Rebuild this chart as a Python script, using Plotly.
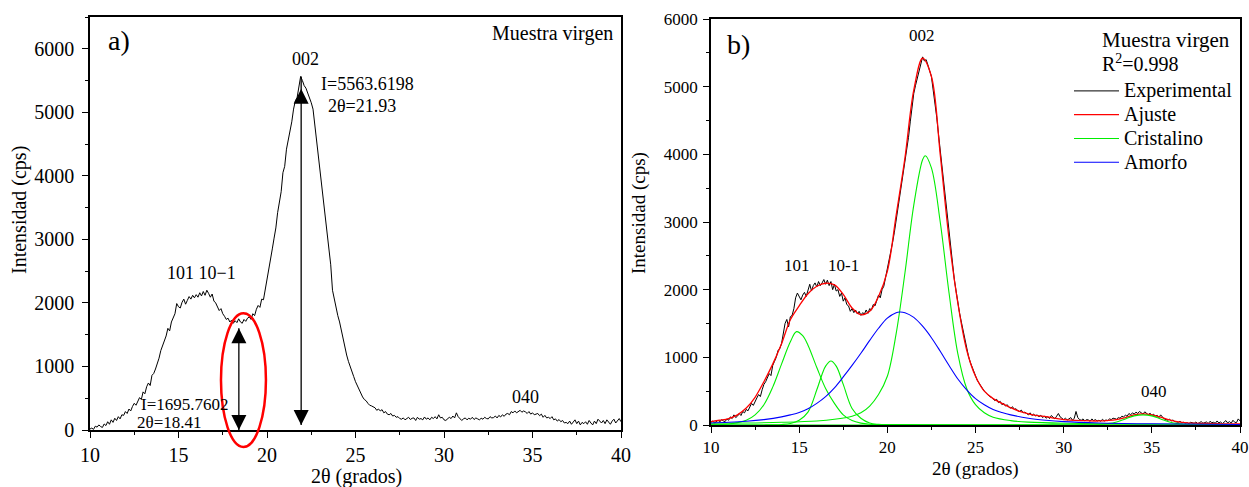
import numpy as np
import plotly.graph_objects as go

FONT = "Liberation Serif"

# ---------------- data ----------------
# scan grid (2theta, degrees)
two_theta = np.round(np.arange(10.0, 40.0001, 0.1), 1)

# panel a) raw diffractogram (cps)
intensity_a = [
    15, 30, 10, 60, 45, 80, 55, 40, 95, 70,
    130, 90, 160, 120, 185, 150, 210, 175, 240, 230,
    290, 260, 330, 300, 370, 420, 390, 460, 510, 480,
    600, 570, 680, 740, 700, 860, 890, 960, 1040, 1130,
    1250, 1320, 1420, 1480, 1600, 1560, 1700, 1760, 1830, 1990,
    1940, 1920, 2010, 2060, 1980, 2040, 2100, 2060, 2120, 2080,
    2130, 2090, 2160, 2110, 2180, 2120, 2200, 2150, 2090, 2140,
    2030, 2000, 1930, 1880, 1910, 1830, 1790, 1740, 1760, 1700,
    1730, 1680, 1720, 1690, 1750, 1700, 1680, 1740, 1710, 1760,
    1780, 1740, 1830, 1800, 1900, 1960, 1930, 2060, 2050, 2200,
    2380, 2520, 2640, 2850, 3020, 3180, 3420, 3600, 3750, 4050,
    4150, 4420, 4550, 4700, 4850, 5050, 5180, 5230, 5400, 5563.6,
    5500, 5420, 5380, 5300, 5250, 5150, 5050, 4800, 4550, 4350,
    4100, 3850, 3600, 3300, 3080, 2850, 2600, 2200, 2050, 1920,
    1800, 1700, 1560, 1420, 1300, 1180, 1080, 990, 900, 840,
    760, 700, 640, 560, 520, 480, 460, 420, 390, 380,
    360, 350, 310, 330, 300, 320, 270, 290, 250, 240,
    260, 220, 230, 200, 210, 180, 170, 190, 160, 175,
    200, 165, 185, 190, 150, 200, 170, 180, 160, 205,
    170, 190, 160, 200, 180, 210, 175, 240, 190, 200,
    160, 150, 175, 200, 180, 220, 190, 270, 210, 180,
    150, 175, 190, 160, 185, 170, 200, 165, 190, 175,
    160, 185, 170, 200, 180, 175, 210, 190, 195, 220,
    190, 230, 205, 240, 215, 250, 260, 240, 290, 270,
    300, 270, 290, 310, 280, 300, 285, 260, 290, 250,
    270, 240, 250, 260, 225, 250, 200, 230, 190, 200,
    180, 210, 160, 175, 140, 165, 130, 150, 110, 120,
    100, 140, 90, 125, 160, 100, 140, 80, 120, 100,
    130, 90, 150, 110, 80, 140, 100, 170, 130, 110,
    150, 100, 160, 120, 90, 140, 170, 110, 140, 180,
    130,
]

# panel b) experimental (cps)
intensity_b = [
    40, 60, 30, 55, 70, 45, 80, 60, 50, 90,
    70, 120, 95, 150, 110, 130, 170, 140, 200, 180,
    230, 210, 270, 320, 290, 360, 400, 450, 420, 520,
    600, 640, 700, 760, 730, 880, 940, 1000, 1100, 1130,
    1200, 1350, 1500, 1560, 1450, 1600, 1620, 1720, 1880, 1950,
    1900, 1850, 1920, 1960, 1900, 2000, 2080, 1980, 2060, 2100,
    2040, 2120, 2060, 2100, 2150, 2080, 2140, 2060, 2120, 2000,
    2080, 1980, 2000, 1900, 1950, 1830, 1880, 1780, 1760, 1680,
    1720, 1660, 1700, 1640, 1680, 1620, 1660, 1640, 1700, 1650,
    1720, 1700, 1780, 1760, 1850, 1920, 1880, 2000, 2050, 2180,
    2260, 2400, 2560, 2700, 2850, 3020, 3200, 3380, 3560, 3700,
    3880, 4050, 4250, 4480, 4700, 4900, 5020, 5120, 5250, 5350,
    5440, 5380, 5400, 5320, 5250, 5150, 4950, 4780, 4550, 4300,
    4050, 3800, 3550, 3300, 3050, 2800, 2550, 2380, 2150, 1980,
    1800, 1650, 1520, 1380, 1250, 1120, 1020, 930, 860, 790,
    720, 660, 620, 570, 540, 500, 470, 450, 420, 410,
    390, 360, 380, 330, 350, 300, 320, 280, 300, 260,
    250, 270, 230, 240, 210, 200, 220, 180, 190, 170,
    150, 180, 140, 160, 135, 150, 120, 145, 110, 130,
    100, 120, 95, 140, 110, 90, 130, 170, 120, 95,
    80, 100, 75, 90, 110, 70, 100, 200, 110, 80,
    70, 90, 60, 80, 75, 55, 90, 65, 80, 60,
    70, 55, 85, 60, 75, 65, 90, 80, 100, 95,
    85, 110, 100, 130, 120, 145, 130, 170, 150, 180,
    160, 190, 170, 200, 180, 160, 195, 170, 150, 175,
    140, 160, 130, 145, 110, 150, 120, 90, 80, 70,
    85, 60, 75, 50, 45, 40, 55, 30, 40, 25,
    35, 20, 40, 30, 25, 45, 20, 35, 50, 25,
    30, 45, 20, 55, 35, 40, 25, 60, 30, 45,
    20, 40, 65, 30, 50, 25, 70, 40, 35, 90,
    60,
]

# fitted total (Ajuste)
fit_x = [10, 10.5, 11, 11.5, 12, 12.5, 13, 13.5, 14, 14.5, 15, 15.5, 16, 16.5, 17, 17.5,
         18, 18.5, 19, 19.5, 20, 20.5, 21, 21.5, 22, 22.5, 23, 23.5, 24, 24.5, 25, 25.5,
         26, 26.5, 27, 27.5, 28, 28.5, 29, 29.5, 30, 31, 32, 33, 33.5, 34, 34.5, 35, 35.5,
         36, 36.5, 37, 38, 39, 40]
fit_y = [50, 70, 95, 150, 250, 410, 640, 900, 1200, 1555, 1760, 1940, 2050, 2095, 2070, 1930,
         1730, 1630, 1680, 1900, 2270, 3100, 3950, 4950, 5420, 5150, 4000, 2750, 1800, 1108, 720, 500,
         390, 320, 255, 200, 165, 140, 123, 100, 80, 65, 60, 80, 110, 150, 165, 150, 115,
         75, 45, 30, 22, 18, 15]

# crystalline peaks (Cristalino)
p101_x = [10, 11, 11.5, 12, 12.5, 13, 13.5, 14, 14.5, 14.85, 15.2, 15.5, 16, 16.5, 17, 17.5,
          18, 18.5, 19, 20, 22, 25, 40]
p101_y = [3, 15, 35, 70, 150, 300, 560, 900, 1230, 1380, 1320, 1180, 850, 540, 320, 150,
          65, 28, 12, 5, 2, 1, 0]

p10m1_x = [10, 13, 14, 14.5, 15, 15.5, 16, 16.3, 16.5, 16.8, 17.1, 17.5, 18, 18.5, 19, 19.5,
           20, 22, 40]
p10m1_y = [0, 1, 8, 22, 70, 190, 520, 750, 870, 945, 870, 600, 245, 100, 30, 10, 4, 1, 0]

p002_x = [10, 12, 14, 16, 17, 18, 18.5, 19, 19.5, 20, 20.5, 21, 21.5, 22, 22.15, 22.5, 23,
          23.5, 24, 24.5, 25, 25.5, 26, 27, 28, 30, 35, 40]
p002_y = [25, 30, 40, 60, 85, 130, 180, 280, 450, 720, 1350, 2250, 3250, 3920, 3980, 3800, 3000,
          1950, 1050, 540, 300, 180, 115, 65, 42, 25, 12, 8]

p040_x = [10, 30, 31, 32, 32.5, 33, 33.5, 34, 34.5, 35, 35.5, 36, 36.5, 37, 38, 40]
p040_y = [0, 0, 2, 8, 20, 45, 90, 135, 150, 135, 90, 45, 20, 8, 2, 0]

# amorphous halo (Amorfo)
amorfo_x = [10, 11, 12, 13, 14, 14.5, 15, 15.5, 16, 16.5, 17, 17.5, 18, 18.5, 19, 19.5, 20,
            20.5, 20.7, 21, 21.5, 22, 22.5, 23, 23.5, 24, 24.5, 25, 25.5, 26, 26.5, 27, 28,
            29, 30, 32, 35, 40]
amorfo_y = [30, 40, 55, 80, 120, 150, 185, 240, 320, 420, 550, 710, 880, 1060, 1250, 1430, 1580,
            1660, 1670, 1660, 1590, 1460, 1290, 1090, 880, 680, 520, 390, 300, 230, 185, 150, 100,
            70, 50, 30, 18, 8]

# annotated points in panel a
mark_x = [21.93, 18.41]
mark_I = [5563.6198, 1695.7602]
arrow_top = [5370, 1600]
arrow_bottom = [80, 0]

# highlighted region (ellipse) in panel a, data units
ell_x = [17.4, 19.94]
ell_y = [-267, 1838]

XA = [10, 40]
YA = [0, 6500]
YB = [0, 6000]

OFF = 0  # body margin removed by post_script below
W, H = 1249, 487


def sx(px):
    return (px - OFF) / W


def sy(py):
    return (H - (py - OFF)) / H


fig = go.Figure()

# ---------- panel a ----------
fig.add_trace(go.Scatter(x=two_theta, y=intensity_a, mode="lines",
                         line=dict(color="black", width=1), showlegend=False,
                         xaxis="x", yaxis="y"))
for xv, top, bot, peak in zip(mark_x, arrow_top, arrow_bottom, mark_I):
    fig.add_trace(go.Scatter(x=[xv, xv], y=[bot, max(top, peak) if peak > 3000 else top],
                             mode="lines", line=dict(color="black", width=1.3),
                             showlegend=False, xaxis="x", yaxis="y"))
    fig.add_trace(go.Scatter(x=[xv, xv], y=[top, bot], mode="markers",
                             marker=dict(symbol=["arrow-up", "arrow-down"], size=15,
                                         color="black", line=dict(width=0)),
                             cliponaxis=False, showlegend=False, xaxis="x", yaxis="y"))


def leg(name):
    return '<span style="font-size:20px">%s</span>' % name


# ---------- panel b ----------
fig.add_trace(go.Scatter(x=two_theta, y=intensity_b, mode="lines", name=leg("Experimental"),
                         line=dict(color="black", width=1), xaxis="x2", yaxis="y2"))
fig.add_trace(go.Scatter(x=fit_x, y=fit_y, mode="lines", name=leg("Ajuste"),
                         line=dict(color="#ff0000", width=1.3, shape="spline", smoothing=1),
                         xaxis="x2", yaxis="y2"))
GREEN = "#00ee00"
for i, (px, py) in enumerate([(p101_x, p101_y), (p10m1_x, p10m1_y),
                              (p002_x, p002_y), (p040_x, p040_y)]):
    fig.add_trace(go.Scatter(x=px, y=py, mode="lines", name=leg("Cristalino"),
                             legendgroup="crist", showlegend=(i == 0),
                             line=dict(color=GREEN, width=1.1, shape="spline", smoothing=1),
                             xaxis="x2", yaxis="y2"))
fig.add_trace(go.Scatter(x=amorfo_x, y=amorfo_y, mode="lines", name=leg("Amorfo"),
                         line=dict(color="#0000ff", width=1.1, shape="spline", smoothing=1),
                         xaxis="x2", yaxis="y2"))


def axis(rng, dtick, mdtick, domain, anchor, size, standoff=None):
    d = dict(range=rng, domain=domain, anchor=anchor, automargin=False,
             showline=True, linecolor="black",
             linewidth=1.5, mirror=True, ticks="outside", ticklen=6, tickwidth=1.3,
             tickcolor="black", tick0=rng[0], dtick=dtick, showgrid=False, zeroline=False,
             minor=dict(ticks="outside", ticklen=3.5, tickwidth=1.2, tickcolor="black",
                        dtick=mdtick, tick0=rng[0], showgrid=False),
             tickfont=dict(family=FONT, size=size, color="black"))
    if standoff is not None:
        d["ticklabelstandoff"] = standoff
    return d


xa_dom = [sx(90), sx(621)]
ya_dom = [sy(430), sy(17)]
xb_dom = [sx(711), sx(1240)]
yb_dom = [sy(425), sy(19)]

fig.update_layout(
    width=W, height=H, autosize=False,
    margin=dict(l=0, r=0, t=0, b=0, pad=0, autoexpand=False),
    paper_bgcolor="white", plot_bgcolor="white",
    font=dict(family=FONT, color="black"),
    xaxis=axis(XA, 5, 2.5, xa_dom, "y", 20),
    yaxis=axis(YA, 1000, 500, ya_dom, "x", 20, 4),
    xaxis2=axis(XA, 5, 2.5, xb_dom, "y2", 17),
    yaxis2=axis(YB, 1000, 500, yb_dom, "x2", 17, 2),
    showlegend=True,
    legend=dict(x=sx(1069), y=sy(74), xanchor="left", yanchor="top",
                bgcolor="rgba(0,0,0,0)", borderwidth=0, itemwidth=45,
                font=dict(family=FONT, size=16, color="black"),
                tracegroupgap=0),
)

ann = []


def txt(x, y, s, size, xref, yref, xanchor="center", yanchor="middle"):
    ann.append(dict(x=x, y=y, text=s, showarrow=False, xref=xref, yref=yref,
                    xanchor=xanchor, yanchor=yanchor,
                    font=dict(family=FONT, size=size, color="black")))


# panel a labels
txt(10.9, 6130, "a)", 28, "x", "y", "left")
txt(39.65, 6240, "Muestra virgen", 20, "x", "y", "right")
txt(22.15, 5840, "002", 18, "x", "y")
txt(22.95, 5450, "I=5563.6198", 18, "x", "y", "left")
txt(23.35, 5100, "2θ=21.93", 18, "x", "y", "left")
txt(16.3, 2470, "101 10−1", 18, "x", "y")
txt(12.75, 400, "I=1695.7602", 17, "x", "y", "left")
txt(12.55, 115, "2θ=18.41", 17, "x", "y", "left")
txt(34.6, 520, "040", 18, "x", "y")

# panel b labels
txt(10.8, 5620, "b)", 28, "x2", "y2", "left")
txt(21.95, 5750, "002", 17, "x2", "y2")
txt(32.05, 5690, "Muestra virgen", 21, "x2", "y2", "left")
txt(32.05, 5350, "R<sup>2</sup>=0.998", 20, "x2", "y2", "left")
txt(14.9, 2350, "101", 17, "x2", "y2")
txt(17.5, 2350, "10-1", 17, "x2", "y2")
txt(35.1, 500, "040", 17, "x2", "y2")

# axis titles
txt(sx(20), sy(210), "Intensidad (cps)", 20, "paper", "paper")
ann[-1]["textangle"] = -90
txt(sx(639), sy(213), "Intensidad (cps)", 19, "paper", "paper")
ann[-1]["textangle"] = -90
txt(sx(356), sy(476), "2θ (grados)", 20, "paper", "paper")
txt(sx(975), sy(469), "2θ (grados)", 19, "paper", "paper")

fig.update_layout(annotations=ann)

# ellipse highlighting the valley (domain refs so it is not clipped)
fig.add_shape(type="circle", xref="x domain", yref="y domain",
              x0=(ell_x[0] - XA[0]) / (XA[1] - XA[0]), x1=(ell_x[1] - XA[0]) / (XA[1] - XA[0]),
              y0=(ell_y[0] - YA[0]) / (YA[1] - YA[0]), y1=(ell_y[1] - YA[0]) / (YA[1] - YA[0]),
              line=dict(color="#ff0000", width=2.5))

fig.write_html("out.html",
               config={"displayModeBar": False},
               post_script="document.body.style.margin='0';document.body.style.overflow='hidden';")
